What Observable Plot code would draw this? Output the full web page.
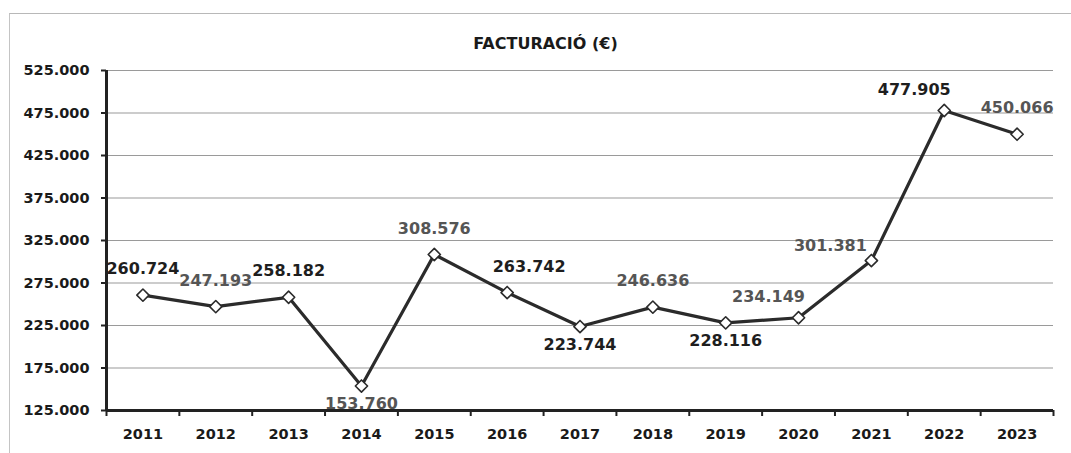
<!DOCTYPE html>
<html>
<head>
<meta charset="utf-8">
<script src="https://cdn.jsdelivr.net/npm/d3@7"></script>
<script src="https://cdn.jsdelivr.net/npm/@observablehq/plot@0.6"></script>
<style>
  html, body { margin: 0; padding: 0; background: #fff; }
  #wrap { position: relative; width: 1071px; height: 453px; overflow: hidden; }
  #frame { position: absolute; left: 9px; top: 13px; width: 1070px; height: 460px; border-left: 1px solid #c4c4c4; border-top: 1px solid #b8b8b8; }
  #title { position: absolute; left: 20px; width: 1051px; top: 34px; text-align: center; font: bold 16px "DejaVu Sans", sans-serif; color: #1a1a1a; }
  #chart { position: absolute; left: 0; top: 0; }
</style>
</head>
<body>
<div id="wrap">
  <div id="frame"></div>
  <div id="chart"></div>
  <div id="title">FACTURACIÓ (€)</div>
</div>
<script>
const years = [2011, 2012, 2013, 2014, 2015, 2016, 2017, 2018, 2019, 2020, 2021, 2022, 2023];
const values = [260724, 247193, 258182, 153760, 308576, 263742, 223744, 246636, 228116, 234149, 301381, 477905, 450066];
const labels = ["260.724", "247.193", "258.182", "153.760", "308.576", "263.742", "223.744", "246.636", "228.116", "234.149", "301.381", "477.905", "450.066"];
const labelPlacement = ["top", "top", "top", "bottom", "top", "top-right", "bottom", "top", "bottom", "top-left", "left", "top-left", "top"];
const labelTone = ["dark", "gray", "dark", "gray", "gray", "dark", "dark", "gray", "dark", "gray", "gray", "dark", "gray"];
const yTicks = [125000, 175000, 225000, 275000, 325000, 375000, 425000, 475000, 525000];
const yTickLabels = ["125.000", "175.000", "225.000", "275.000", "325.000", "375.000", "425.000", "475.000", "525.000"];

const data = years.map((y, i) => ({year: y, value: values[i], label: labels[i], place: labelPlacement[i], tone: labelTone[i]}));
const bounds = years.map(y => y - 0.5).concat([years[years.length - 1] + 0.5]);

const offsets = {
  "top": [0, -26], "top-right": [22, -26], "top-left": [-30, -21],
  "bottom": [0, 18], "left": [-41, -15]
};
const font = "DejaVu Sans, sans-serif";

function labelMark(place) {
  const [dx, dy] = offsets[place];
  return Plot.text(data.filter(d => d.place === place), {
    x: "year", y: "value", text: "label", dx, dy,
    fill: d => d.tone === "dark" ? "#1e1e1e" : "#555",
    fontSize: 16, fontWeight: "bold", fontFamily: font
  });
}

const chart = Plot.plot({
  width: 1071,
  height: 453,
  marginLeft: 106,
  marginRight: 18,
  marginTop: 70,
  marginBottom: 43,
  style: {fontFamily: font, background: "transparent", overflow: "visible"},
  x: {type: "linear", domain: [years[0] - 0.5, years[years.length - 1] + 0.5], axis: null},
  y: {type: "linear", domain: [yTicks[0], yTicks[yTicks.length - 1]], axis: null},
  marks: [
    Plot.ruleY(yTicks.slice(1), {stroke: "#9a9a9a", strokeWidth: 1.2}),
    Plot.axisY(yTicks, {
      tickFormat: (d, i) => yTickLabels[i], tickSize: 5, tickPadding: 12,
      fontSize: 14.5, fontWeight: "bold", fill: "#1a1a1a", stroke: "#222", strokeWidth: 2, label: null
    }),
    Plot.axisX(years, {
      tickFormat: d => String(d), tickSize: 0, tickPadding: 18,
      fontSize: 14.5, fontWeight: "bold", fill: "#1a1a1a", label: null
    }),
    Plot.ruleX(bounds, {x: d => d, y1: yTicks[0], y2: yTicks[0], insetBottom: -6, stroke: "#222", strokeWidth: 2}),
    Plot.ruleY([yTicks[0]], {stroke: "#222", strokeWidth: 3}),
    Plot.ruleX([bounds[0]], {stroke: "#222", strokeWidth: 3}),
    Plot.line(data, {x: "year", y: "value", stroke: "#2b2b2b", strokeWidth: 3.2, strokeLinejoin: "round"}),
    Plot.dot(data, {x: "year", y: "value", symbol: "diamond2", r: 5.5, fill: "#fff", stroke: "#2b2b2b", strokeWidth: 1.6, strokeLinejoin: "round"}),
    ...Object.keys(offsets).map(labelMark)
  ]
});
document.getElementById("chart").appendChild(chart);
</script>
</body>
</html>
